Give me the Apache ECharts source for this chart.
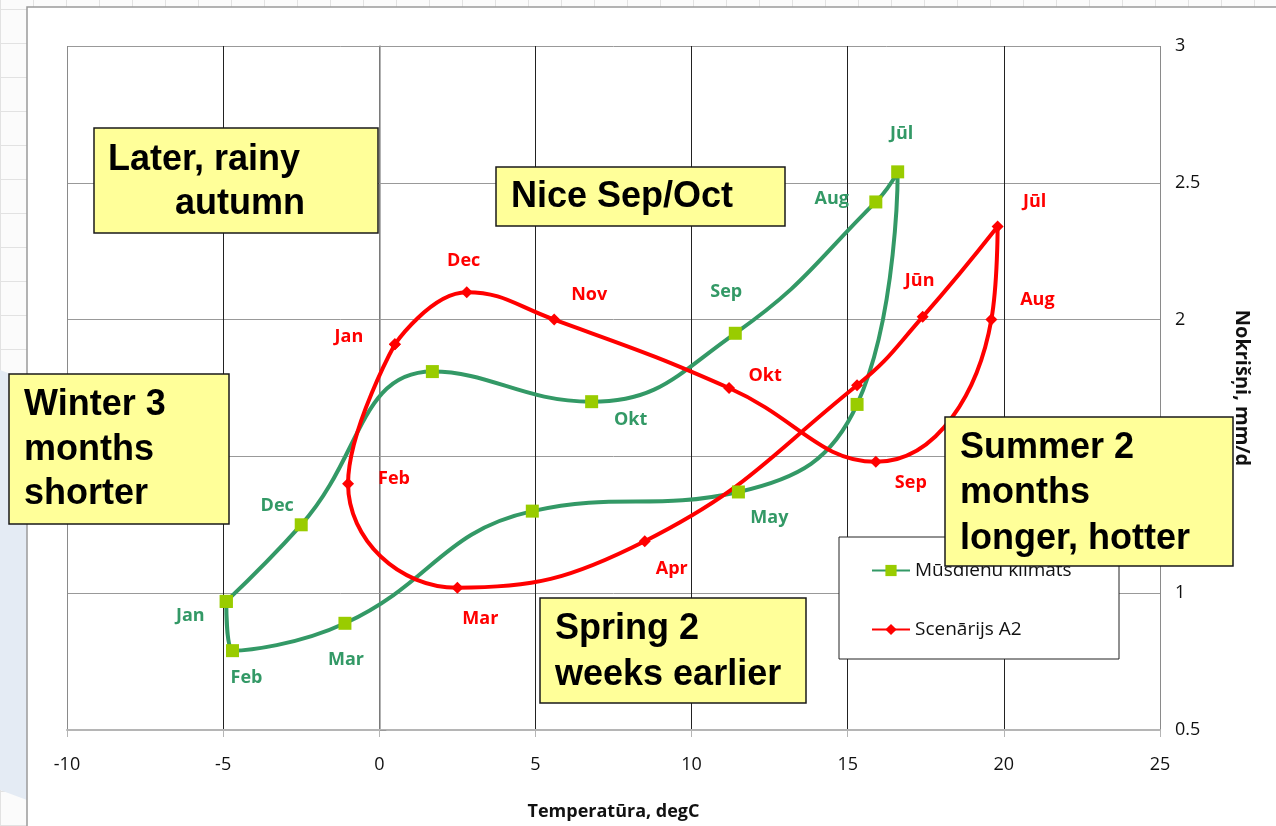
<!DOCTYPE html>
<html>
<head>
<meta charset="utf-8">
<script src="https://cdn.jsdelivr.net/npm/echarts@6/dist/echarts.min.js"></script>
<style>
  html, body { margin: 0; padding: 0; }
  body {
    width: 1276px; height: 826px; overflow: hidden;
    background-color: #fbfbfb;
    background-image:
      repeating-linear-gradient(0deg, #e2e2e2 0 1px, transparent 1px 34px),
      repeating-linear-gradient(90deg, #e2e2e2 0 1px, transparent 1px 33px);
  }
  #chart { width: 1276px; height: 826px; }
</style>
</head>
<body>
<div id="chart"></div>
<script>
// mēneši un vērtības nolasītas no attēla
const months = [ 'Jan', 'Feb', 'Mar', 'Apr', 'May', 'Jūn', 'Jūl', 'Aug', 'Sep', 'Okt', 'Nov', 'Dec' ];
const tempNow = [ -4.9, -4.7, -1.1, 4.9, 11.5, 15.3, 16.6, 15.9, 11.4, 6.8, 1.7, -2.5 ];
const rainNow = [ 0.97, 0.79, 0.89, 1.30, 1.37, 1.69, 2.54, 2.43, 1.95, 1.70, 1.81, 1.25 ];
const tempA2 = [ 0.5, -1.0, 2.5, 8.5, 15.3, 17.4, 19.8, 19.6, 15.9, 11.2, 5.6, 2.8 ];
const rainA2 = [ 1.91, 1.40, 1.02, 1.19, 1.76, 2.01, 2.34, 2.00, 1.48, 1.75, 2.00, 2.10 ];
const seriesNames = [ 'Mūsdienu klimats', 'Scenārijs A2' ];
const xTicks = [ -10, 25, 5 ];   // min, max, solis
const yTicks = [ 0.5, 3, 0.5 ];

// etiķešu nobīdes (px) no punkta, bez ieraksta = bez etiķetes
const offNow = {
  Jan: [ -36, 14 ], Feb: [ 14, 27 ], Mar: [ 1, 37 ], May: [ 31, 26 ], 'Jūl': [ 4, -38 ],
  Aug: [ -44, -3 ], Sep: [ -9, -41 ], Okt: [ 39, 18 ], Dec: [ -24, -19 ]
};
const offA2 = {
  Jan: [ -46, -7 ], Feb: [ 46, -5 ], Mar: [ 23, 31 ], Apr: [ 27, 28 ], 'Jūn': [ -3, -36 ],
  'Jūl': [ 37, -25 ], Aug: [ 46, -20 ], Sep: [ 35, 21 ], Okt: [ 36, -12 ], Nov: [ 35, -25 ], Dec: [ -3, -31 ]
};

const GREEN = '#339966';
const RED = '#ff0000';
const FONT = '"Open Sans", "DejaVu Sans", sans-serif';
const BOXFONT = '"Liberation Sans", Arial, sans-serif';

function buildData ( xs, ys, offsets, color ) {
  const pts = months.map( ( m, i ) => {
    const off = offsets[ m ];
    return {
      name: m,
      value: [ xs[ i ], ys[ i ] ],
      label: off ? {
        show: true, position: 'inside', offset: off, formatter: m,
        color: color, fontWeight: 'bold', fontSize: 18, fontFamily: FONT
      } : { show: false }
    };
  } );
  // noslēdz cilpu atpakaļ uz janvāri
  pts.push( { name: months[ 0 ], value: [ xs[ 0 ], ys[ 0 ] ], label: { show: false } } );
  return pts;
}

// dzeltenās piezīmju kastes
const notes = [
  { x: 94, y: 128, w: 284, h: 105, lines: [ [ 'Later, rainy', 14, 32 ], [ 'autumn', 81, 76 ] ] },
  { x: 496, y: 167, w: 289, h: 59, lines: [ [ 'Nice Sep/Oct', 15, 30 ] ] },
  { x: 9, y: 374, w: 220, h: 150, lines: [ [ 'Winter 3', 15, 31 ], [ 'months', 15, 76 ], [ 'shorter', 15, 120 ] ] },
  { x: 945, y: 417, w: 288, h: 149, lines: [ [ 'Summer 2', 15, 31 ], [ 'months', 15, 76 ], [ 'longer, hotter', 15, 122 ] ] },
  { x: 540, y: 598, w: 266, h: 105, lines: [ [ 'Spring 2', 15, 31 ], [ 'weeks earlier', 15, 77 ] ] }
];

const graphics = [
  { type: 'polygon', z: -20, shape: { points: [ [ 0, 370 ], [ 27, 380 ], [ 27, 800 ], [ 0, 790 ] ] }, style: { fill: '#e4ebf4' } },
  { type: 'rect', z: -10, shape: { x: 27, y: 7, width: 1260, height: 830 }, style: { fill: '#ffffff', stroke: '#9a9a9a', lineWidth: 1.5 } },
  { type: 'rect', z: 3, shape: { x: 839, y: 537, width: 280, height: 122 }, style: { fill: '#ffffff', stroke: '#222', lineWidth: 1 } }
];
notes.forEach( ( n ) => {
  graphics.push( {
    type: 'rect', z: 100,
    shape: { x: n.x, y: n.y, width: n.w, height: n.h },
    style: { fill: '#ffff99', stroke: '#1a1a1a', lineWidth: 1.5 }
  } );
  n.lines.forEach( ( l ) => {
    graphics.push( {
      type: 'text', z: 101, x: n.x + l[ 1 ], y: n.y + l[ 2 ],
      style: { text: l[ 0 ], font: 'bold 36px ' + BOXFONT, fill: '#000', verticalAlign: 'middle', textAlign: 'left' }
    } );
  } );
} );

const chart = echarts.init( document.getElementById( 'chart' ) );

chart.setOption( {
  backgroundColor: 'transparent',
  animation: false,
  grid: { left: 67, right: 116, top: 46, bottom: 95, containLabel: false },
  xAxis: {
    type: 'value', min: xTicks[ 0 ], max: xTicks[ 1 ], interval: xTicks[ 2 ],
    name: 'Temperatūra, degC', nameLocation: 'middle', nameGap: 73,
    nameTextStyle: { fontWeight: 'bold', fontSize: 18, color: '#111', fontFamily: FONT },
    axisLine: { show: true, onZero: false, lineStyle: { color: '#b5b5b5', width: 2 } },
    axisTick: { show: true, length: 7, lineStyle: { color: '#b5b5b5' } },
    axisLabel: { fontSize: 18, color: '#111', margin: 26, fontFamily: FONT },
    splitLine: { show: true, lineStyle: { color: [ '#8a8a8a', '#222', '#222', '#222', '#222', '#222', '#222', '#8a8a8a' ], width: 1 } }
  },
  yAxis: {
    type: 'value', position: 'right', min: yTicks[ 0 ], max: yTicks[ 1 ], interval: yTicks[ 2 ],
    name: 'Nokrišņi, mm/d', nameLocation: 'middle', nameGap: 72, nameRotate: -90,
    nameTextStyle: { fontWeight: 'bold', fontSize: 20, color: '#111', fontFamily: FONT },
    axisLine: { show: true, lineStyle: { color: '#999', width: 1.5 } },
    axisTick: { show: true, length: 7, lineStyle: { color: '#999' } },
    axisLabel: { fontSize: 18, color: '#111', margin: 15, fontFamily: FONT },
    splitLine: { show: true, lineStyle: { color: '#999', width: 1 } }
  },
  legend: {
    orient: 'vertical', left: 866, top: 556, itemGap: 40,
    itemWidth: 38, itemHeight: 14,
    textStyle: { fontSize: 19, color: '#111', fontFamily: FONT },
    data: seriesNames
  },
  graphic: graphics,
  series: [
    {
      name: seriesNames[ 0 ], type: 'line', smooth: 0.45,
      symbol: 'rect', symbolSize: 13,
      itemStyle: { color: '#99cc00' },
      lineStyle: { color: GREEN, width: 4 },
      data: buildData( tempNow, rainNow, offNow, GREEN )
    },
    {
      name: seriesNames[ 1 ], type: 'line', smooth: 0.45,
      symbol: 'diamond', symbolSize: 12,
      itemStyle: { color: RED },
      lineStyle: { color: RED, width: 4 },
      data: buildData( tempA2, rainA2, offA2, RED )
    }
  ]
} );
</script>
</body>
</html>
